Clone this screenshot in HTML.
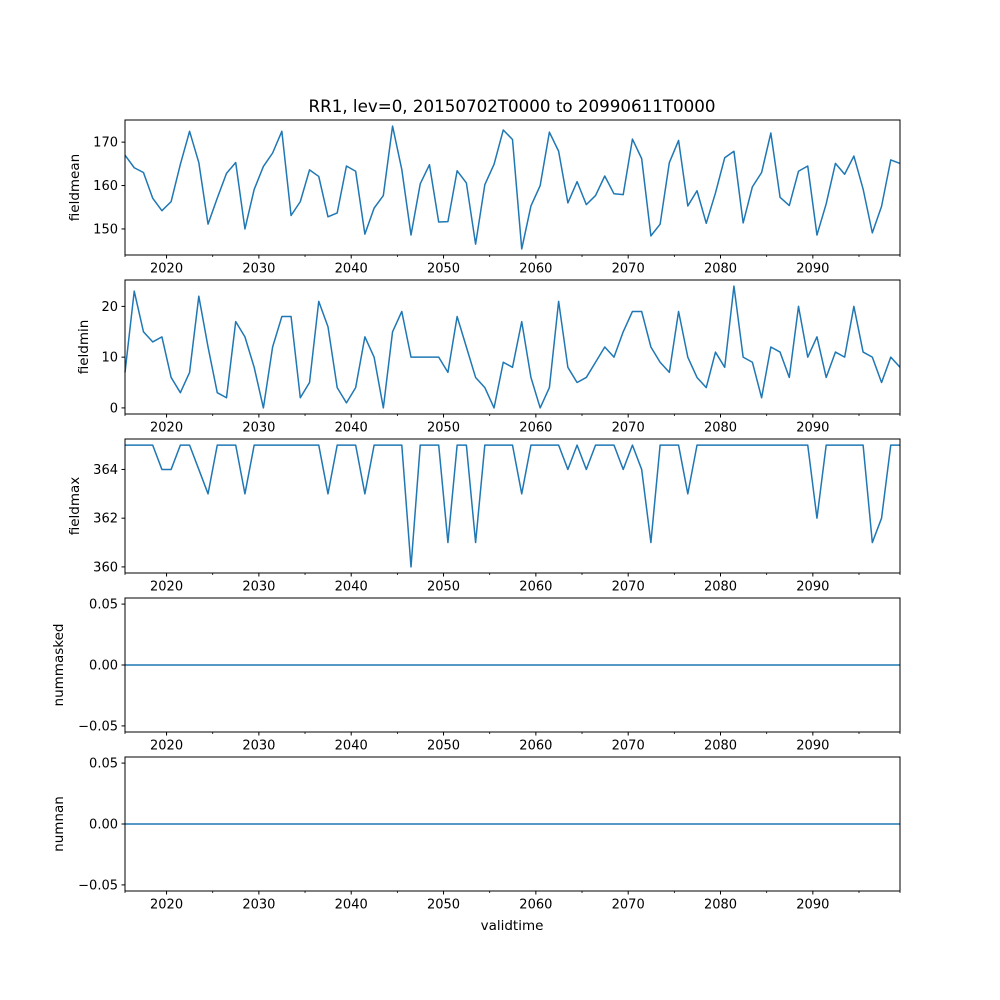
<!DOCTYPE html>
<html><head><meta charset="utf-8">
<style>
body{margin:0;background:#fff;}
svg{display:block;font-family:"DejaVu Sans","Liberation Sans",sans-serif;}
</style></head>
<body>
<svg id="chart" width="1000" height="1000" viewBox="0 0 1000 1000">
<rect width="1000" height="1000" fill="#fff"/>
<text x="512" y="112" font-size="16.7" text-anchor="middle">RR1, lev=0, 20150702T0000 to 20990611T0000</text>
<text x="512" y="930" font-size="13.5" text-anchor="middle">validtime</text>
</svg>
<script>
const fieldmean=[167.0,164.1,163.0,157.1,154.2,156.3,164.9,172.5,165.3,151.1,157.1,162.8,165.3,150.0,159.1,164.4,167.5,172.5,153.1,156.3,163.6,162.1,152.8,153.7,164.5,163.3,148.8,154.8,157.7,173.7,163.7,148.6,160.4,164.8,151.6,151.7,163.4,160.6,146.5,160.2,164.9,172.8,170.6,145.4,155.3,160.0,172.3,167.9,156.0,160.9,155.6,157.7,162.2,158.1,157.9,170.7,166.2,148.4,151.1,165.3,170.4,155.3,158.8,151.3,158.3,166.4,167.9,151.4,159.7,163.0,172.1,157.3,155.4,163.3,164.5,148.6,155.8,165.1,162.6,166.8,159.2,149.1,155.2,165.9,165.1];
const fieldmin=[7,23,15,13,14,6,3,7,22,12,3,2,17,14,8,0,12,18,18,2,5,21,16,4,1,4,14,10,0,15,19,10,10,10,10,7,18,12,6,4,0,9,8,17,6,0,4,21,8,5,6,9,12,10,15,19,19,12,9,7,19,10,6,4,11,8,24,10,9,2,12,11,6,20,10,14,6,11,10,20,11,10,5,10,8];
const fieldmax=[365,365,365,365,364,364,365,365,364,363,365,365,365,363,365,365,365,365,365,365,365,365,363,365,365,365,363,365,365,365,365,360,365,365,365,361,365,365,361,365,365,365,365,363,365,365,365,365,364,365,364,365,365,365,364,365,364,361,365,365,365,363,365,365,365,365,365,365,365,365,365,365,365,365,365,362,365,365,365,365,365,361,362,365,365];
const nummasked=new Array(85).fill(0);
const numnan=new Array(85).fill(0);
const xTickYears=[2020,2030,2040,2050,2060,2070,2080,2090];
const xMinorYears=[2025,2035,2045,2055,2065,2075,2085,2095];

const svg=document.getElementById('chart');
const NS='http://www.w3.org/2000/svg';
const X0=125,X1=900,T0=2015.5,T1=2099.44;
function xYear(y){return X0+(y-T0)/(T1-T0)*(X1-X0);}
function xIdx(i,n){return X0+i*(X1-X0)/(n-1);}
function mk(tag,attrs,parent){const e=document.createElementNS(NS,tag);for(const k in attrs)e.setAttribute(k,attrs[k]);(parent||svg).appendChild(e);return e;}

const panels=[
 {name:'fieldmean',data:fieldmean,top:120,bot:255,min:144.0,max:175.1,ticks:[150,160,170],labels:['150','160','170'],lx:79},
 {name:'fieldmin',data:fieldmin,top:280,bot:414,min:-1.2,max:25.2,ticks:[0,10,20],labels:['0','10','20'],lx:88},
 {name:'fieldmax',data:fieldmax,top:439,bot:573,min:359.75,max:365.25,ticks:[360,362,364],labels:['360','362','364'],lx:79},
 {name:'nummasked',data:nummasked,top:598,bot:732,min:-0.055,max:0.055,ticks:[-0.05,0,0.05],labels:['\u22120.05','0.00','0.05'],lx:63},
 {name:'numnan',data:numnan,top:757,bot:891,min:-0.055,max:0.055,ticks:[-0.05,0,0.05],labels:['\u22120.05','0.00','0.05'],lx:63}
];
panels.forEach(p=>{
  const g=mk('g',{});
  
  
  const ys=v=>p.bot-(v-p.min)/(p.max-p.min)*(p.bot-p.top);
  let d='';
  p.data.forEach((v,i)=>{d+=(i?'L':'M')+xIdx(i,p.data.length).toFixed(2)+','+ys(v).toFixed(2);});
  const line=mk('path',{d:d,fill:'none',stroke:'#1f77b4','stroke-width':1.5,'stroke-linejoin':'round'},g);
  
  
  const frame=mk('rect',{x:X0,y:p.top,width:X1-X0,height:p.bot-p.top,fill:'none',stroke:'#000','stroke-width':1},g);
  
  
  p.ticks.forEach((t,k)=>{
    const y=ys(t);
    mk('line',{x1:X0-3.5,x2:X0,y1:y,y2:y,stroke:'#000','stroke-width':1},g);
    const tl=mk('text',{x:X0-7,y:y+4.5,'font-size':13,'text-anchor':'end'},g);
    tl.textContent=p.labels[k];
    
    
  });
  xTickYears.forEach(yr=>{
    const x=xYear(yr);
    mk('line',{x1:x,x2:x,y1:p.bot,y2:p.bot+3.5,stroke:'#000','stroke-width':1},g);
    const tl=mk('text',{x:x,y:p.bot+17.5,'font-size':13,'text-anchor':'middle'},g);
    tl.textContent=String(yr);
    
    
  });
  xMinorYears.concat([T0,T1]).forEach(yr=>{
    const x=xYear(yr);
    mk('line',{x1:x,x2:x,y1:p.bot,y2:p.bot+2,stroke:'#000','stroke-width':0.8},g);
  });
  const yl=mk('text',{x:p.lx,y:(p.top+p.bot)/2,'font-size':13.5,'text-anchor':'middle',transform:'rotate(-90 '+p.lx+' '+(p.top+p.bot)/2+')'},g);
  yl.textContent=p.name;
  
  
});
</script>
</body></html>
